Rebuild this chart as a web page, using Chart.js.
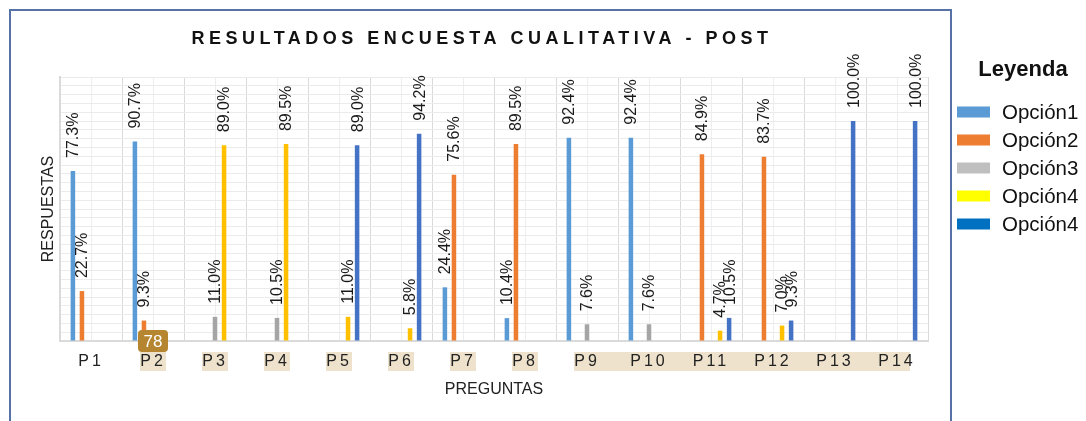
<!DOCTYPE html>
<html lang="es">
<head>
<meta charset="UTF-8">
<title>Resultados encuesta cualitativa - post</title>
<script src="https://cdn.jsdelivr.net/npm/chart.js@4.4.1/dist/chart.umd.min.js"></script>
<style>
  html, body { margin: 0; padding: 0; background: #ffffff; }
  canvas { display: block; }
</style>
</head>
<body>
<canvas id="grafico" width="1086" height="421"></canvas>
<script>
// Datos
const preguntas = ["P1", "P2", "P3", "P4", "P5", "P6", "P7", "P8", "P9", "P10", "P11", "P12", "P13", "P14"];
const opcion1 = [77.3, 90.7, null, null, null, null, 24.4, 10.4, 92.4, 92.4, null, null, null, null];
const opcion2 = [22.7, 9.3, null, null, null, null, 75.6, 89.5, null, null, 84.9, 83.7, null, null];
const opcion3 = [null, null, 11.0, 10.5, null, null, null, null, 7.6, 7.6, null, null, null, null];
const opcion4 = [null, null, 89.0, 89.5, 11.0, 5.8, null, null, null, null, 4.7, 7.0, null, null];
const opcion5 = [null, null, null, null, 89.0, 94.2, null, null, null, null, 10.5, 9.3, 100.0, 100.0];

const nombres = ["Opción1", "Opción2", "Opción3", "Opción4", "Opción4"];
const coloresBarras = ["#5B9BD5", "#ED7D31", "#A5A5A5", "#FFC000", "#4472C4"];
const coloresLeyenda = ["#5B9BD5", "#ED7D31", "#BFBFBF", "#FFFF00", "#0070C0"];
const titulo = "RESULTADOS ENCUESTA CUALITATIVA - POST";
const tituloLeyenda = "Leyenda";
const marca = "78";
// preguntas resaltadas en el eje (indices), cada grupo es un solo recuadro
const resaltadas = [[1], [2], [3], [4], [5], [6], [7], [8, 9, 10, 11, 12, 13]];

const fuente = "'Liberation Sans', Arial, Helvetica, sans-serif";
const valores = [opcion1, opcion2, opcion3, opcion4, opcion5];

// Fondo blanco y recuadros beige detras de las etiquetas
const fondo = {
  id: "fondo",
  beforeDraw(chart) {
    const ctx = chart.ctx;
    const x = chart.scales.x;
    ctx.save();
    ctx.fillStyle = "#ffffff";
    ctx.fillRect(0, 0, chart.width, chart.height);
    ctx.fillStyle = "#EEE2CC";
    resaltadas.forEach((grupo) => {
      const x0 = x.getPixelForValue(grupo[0]) - 13;
      const x1 = x.getPixelForValue(grupo[grupo.length - 1]) + 13;
      ctx.fillRect(x0, chart.chartArea.bottom + 11, x1 - x0, 19);
    });
    ctx.restore();
  }
};

// Porcentajes verticales sobre cada barra
const etiquetas = {
  id: "etiquetas",
  afterDatasetsDraw(chart) {
    const ctx = chart.ctx;
    ctx.save();
    ctx.font = "16px " + fuente;
    ctx.fillStyle = "#1a1a1a";
    ctx.textAlign = "left";
    ctx.textBaseline = "middle";
    chart.data.datasets.forEach((ds, i) => {
      const meta = chart.getDatasetMeta(i);
      meta.data.forEach((bar, j) => {
        const v = ds.data[j];
        if (v === null) return;
        ctx.save();
        ctx.translate(bar.x + 1, bar.y - 13);
        ctx.rotate(-Math.PI / 2);
        ctx.fillText(v.toFixed(1) + "%", 0, 0);
        ctx.restore();
      });
    });
    ctx.restore();
    // espaciado de letras para las etiquetas del eje x (se dibujan despues)
    ctx.letterSpacing = "3px";
  },
  afterDraw(chart) {
    chart.ctx.letterSpacing = "0px";
  }
};

// Marco, titulo, leyenda y marca
const marco = {
  id: "marco",
  afterDraw(chart) {
    const ctx = chart.ctx;
    const area = chart.chartArea;
    ctx.save();
    ctx.letterSpacing = "0px";

    ctx.strokeStyle = "#5672A6";
    ctx.lineWidth = 2;
    ctx.strokeRect(10, 10, 941, 440);

    ctx.fillStyle = "#111111";
    ctx.font = "bold 18px " + fuente;
    ctx.letterSpacing = "4.5px";
    ctx.textAlign = "center";
    ctx.textBaseline = "middle";
    ctx.fillText(titulo, 482, 39);
    ctx.letterSpacing = "0px";

    ctx.font = "bold 22px " + fuente;
    ctx.fillText(tituloLeyenda, 1023, 70);

    ctx.textAlign = "left";
    ctx.font = "20.5px " + fuente;
    nombres.forEach((n, i) => {
      const y = 112 + i * 28;
      ctx.fillStyle = coloresLeyenda[i];
      ctx.fillRect(957, y - 5.5, 33, 11);
      ctx.fillStyle = "#111111";
      ctx.fillText(n, 1002, y + 1);
    });

    const bx = chart.scales.x.getPixelForValue(1);
    const by = area.bottom;
    ctx.fillStyle = "#B5852F";
    ctx.beginPath();
    ctx.roundRect(bx - 15, by - 11, 30, 22, 4);
    ctx.fill();
    ctx.fillStyle = "#ffffff";
    ctx.font = "17px " + fuente;
    ctx.textAlign = "center";
    ctx.fillText(marca, bx, by + 1);
    ctx.restore();
  }
};

new Chart(document.getElementById("grafico"), {
  type: "bar",
  data: {
    labels: preguntas,
    datasets: valores.map((v, i) => ({
      label: nombres[i],
      data: v,
      backgroundColor: coloresBarras[i],
      borderWidth: 0,
      categoryPercentage: 0.73,
      barPercentage: 0.5
    }))
  },
  options: {
    responsive: false,
    animation: false,
    layout: { padding: { left: 0, right: 158, top: 77, bottom: 0 } },
    plugins: {
      legend: { display: false },
      tooltip: { enabled: false }
    },
    scales: {
      x: {
        afterFit(scale) { scale.height = 80; },
        grid: { color: "#DADADA", drawTicks: false, offset: true },
        border: { color: "#DADADA", width: 2 },
        ticks: {
          z: 1,
          color: "#222222",
          padding: 11,
          font: { family: fuente, size: 16 },
          maxRotation: 0
        },
        title: {
          display: true,
          text: "PREGUNTAS",
          color: "#222222",
          font: { family: fuente, size: 16 },
          padding: { top: 0, bottom: 22 }
        }
      },
      x2: {
        type: "category",
        position: "bottom",
        afterFit(scale) { scale.height = 0; },
        grid: { color: "#EEEEEE", drawTicks: false, offset: false },
        border: { display: false },
        ticks: { display: false }
      },
      y: {
        min: 0,
        max: 120,
        afterFit(scale) { scale.width = 60; },
        grid: { color: "#EBEBEB", drawTicks: false },
        border: { color: "#DADADA", width: 2 },
        ticks: { display: false, stepSize: 4 },
        title: {
          display: true,
          text: "RESPUESTAS",
          color: "#222222",
          font: { family: fuente, size: 16 },
          padding: { top: 39, bottom: 0 }
        }
      }
    }
  },
  plugins: [fondo, etiquetas, marco]
});
</script>
</body>
</html>
